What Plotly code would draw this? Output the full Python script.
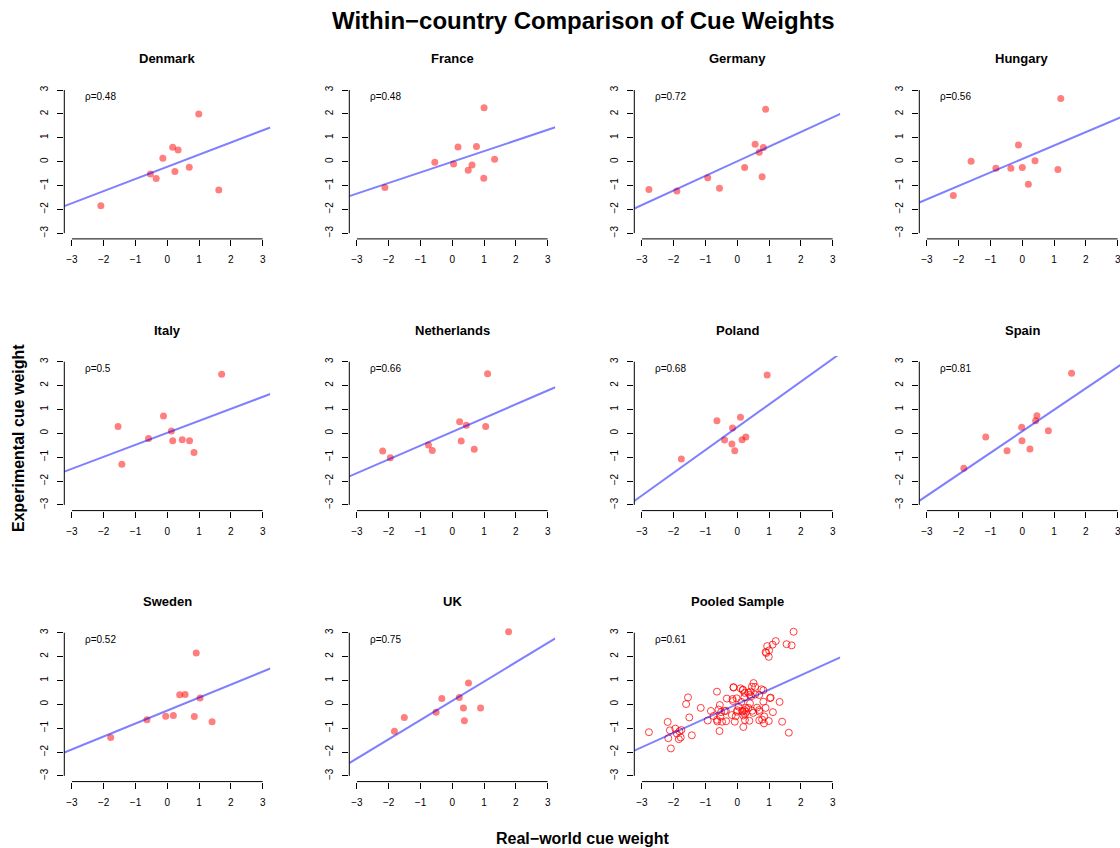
import numpy as np
import plotly.graph_objects as go

# Real-world (x) and experimental (y) cue weights per country
denmark_x = [-2.09, -0.53, -0.35, -0.14, 0.17, 0.34, 0.24, 0.69, 0.99, 1.62]
denmark_y = [-1.85, -0.52, -0.71, 0.14, 0.60, 0.49, -0.42, -0.24, 1.99, -1.19]

france_x = [-2.12, -0.55, 0.04, 0.18, 0.62, 0.50, 0.76, 1.00, 0.99, 1.33]
france_y = [-1.09, -0.03, -0.10, 0.61, -0.14, -0.36, 0.63, 2.26, -0.70, 0.10]

germany_x = [-2.78, -1.90, -0.93, -0.56, 0.23, 0.56, 0.69, 0.82, 0.78, 0.89]
germany_y = [-1.17, -1.23, -0.68, -1.12, -0.25, 0.73, 0.39, 0.59, -0.64, 2.19]

hungary_x = [-2.17, -1.61, -0.83, -0.36, -0.12, 0.00, 0.19, 0.40, 1.12, 1.21]
hungary_y = [-1.42, 0.01, -0.28, -0.28, 0.70, -0.25, -0.95, 0.04, -0.33, 2.65]

italy_x = [-1.55, -1.43, -0.59, -0.12, 0.13, 0.17, 0.47, 0.70, 0.84, 1.71]
italy_y = [0.29, -1.30, -0.22, 0.72, 0.10, -0.31, -0.27, -0.31, -0.80, 2.47]

netherlands_x = [-2.19, -1.95, -0.75, -0.63, 0.23, 0.44, 0.28, 0.69, 1.05, 1.11]
netherlands_y = [-0.74, -1.02, -0.49, -0.72, 0.48, 0.34, -0.32, -0.67, 0.28, 2.50]

poland_x = [-1.76, -0.64, -0.40, -0.15, -0.17, -0.08, 0.10, 0.15, 0.27, 0.94]
poland_y = [-1.08, 0.53, -0.28, 0.22, -0.45, -0.73, 0.67, -0.27, -0.15, 2.44]

spain_x = [-1.84, -1.15, -0.48, -0.02, -0.01, 0.24, 0.42, 0.46, 0.82, 1.55]
spain_y = [-1.46, -0.15, -0.73, 0.25, -0.31, -0.66, 0.53, 0.74, 0.11, 2.52]

sweden_x = [-1.78, -0.64, -0.05, 0.19, 0.39, 0.56, 0.85, 0.91, 1.03, 1.41]
sweden_y = [-1.39, -0.65, -0.50, -0.47, 0.40, 0.41, -0.51, 2.15, 0.26, -0.73]

uk_x = [-1.82, -1.51, -0.51, -0.33, 0.22, 0.35, 0.51, 0.38, 0.89, 1.77]
uk_y = [-1.13, -0.55, -0.33, 0.24, 0.29, -0.15, 0.89, -0.69, -0.15, 3.04]

countries = ["Denmark", "France", "Germany", "Hungary", "Italy", "Netherlands",
             "Poland", "Spain", "Sweden", "UK"]
rho_labels = ["0.48", "0.48", "0.72", "0.56", "0.5", "0.66", "0.68", "0.81",
              "0.52", "0.75", "0.61"]
tick_values = [-3, -2, -1, 0, 1, 2, 3]

xs = [denmark_x, france_x, germany_x, hungary_x, italy_x, netherlands_x,
      poland_x, spain_x, sweden_x, uk_x]
ys = [denmark_y, france_y, germany_y, hungary_y, italy_y, netherlands_y,
      poland_y, spain_y, sweden_y, uk_y]

# Pooled sample: every country's points together
pooled_x = [v for lst in xs for v in lst]
pooled_y = [v for lst in ys for v in lst]

panels = [(c, x, y, False) for c, x, y in zip(countries, xs, ys)]
panels.append(("Pooled Sample", pooled_x, pooled_y, True))

# Page geometry in pixels
W, H = 1120, 848
LIM = 3.24
col_left = [64.3, 349.3, 634.3, 919.3]
row_top = [84.3, 356.0, 627.0]
pw, ph = 206.0, 154.6
px_per_unit = pw / (2 * LIM)

font_family = "Liberation Sans, Arial, Helvetica, sans-serif"

fig = go.Figure()
annotations = []
shapes = []
layout_axes = {}

for i, (name, x, y, pooled) in enumerate(panels):
    r, c = divmod(i, 4)
    left = col_left[c]
    right = min(left + pw, W)
    top = row_top[r]
    bottom = top + ph
    xmax = -LIM + (right - left) / px_per_unit
    k = "" if i == 0 else str(i + 1)
    xa, ya = "x" + k, "y" + k

    if pooled:
        marker = dict(symbol="circle-open", size=7, color="rgba(255,0,0,0.75)",
                      line=dict(width=1, color="rgba(255,0,0,0.75)"))
    else:
        marker = dict(symbol="circle", size=7, color="rgba(255,0,0,0.5)",
                      line=dict(width=0))
    fig.add_trace(go.Scatter(x=x, y=y, mode="markers", marker=marker,
                             xaxis=xa, yaxis=ya, showlegend=False,
                             hoverinfo="skip"))

    # least-squares fit line spanning the whole panel
    slope, intercept = np.polyfit(x, y, 1)
    lx = np.array([-LIM, LIM])
    fig.add_trace(go.Scatter(x=lx, y=intercept + slope * lx, mode="lines",
                             line=dict(color="rgba(0,0,255,0.5)", width=2),
                             xaxis=xa, yaxis=ya, showlegend=False,
                             hoverinfo="skip"))

    axis_common = dict(showgrid=False, zeroline=False, showline=False,
                       ticks="outside", ticklen=6, tickwidth=1,
                       tickcolor="black", tickvals=tick_values,
                       tickfont=dict(family=font_family, size=10, color="black"),
                       ticklabelstandoff=5, ticklabeloverflow="allow",
                       fixedrange=True)
    layout_axes["xaxis" + k] = dict(
        axis_common, domain=[left / W, right / W], range=[-LIM, xmax],
        anchor=ya)
    layout_axes["yaxis" + k] = dict(
        axis_common, domain=[1 - bottom / H, 1 - top / H], range=[-LIM, LIM],
        anchor=xa, tickangle=-90)

    # axis spines covering only the tick span
    shapes.append(dict(type="line", xref=xa, yref=ya + " domain",
                       x0=-3, x1=3, y0=0, y1=0,
                       line=dict(color="black", width=1)))
    shapes.append(dict(type="line", xref=xa + " domain", yref=ya,
                       x0=0, x1=0, y0=-3, y1=3,
                       line=dict(color="black", width=1)))

    # panel title and correlation label
    annotations.append(dict(text="<b>%s</b>" % name, xref="paper", yref="paper",
                            x=(left + pw / 2) / W, y=1 - (top - 25.3) / H,
                            xanchor="center", yanchor="middle", showarrow=False,
                            font=dict(family=font_family, size=13, color="black")))
    annotations.append(dict(text="ρ=" + rho_labels[i], xref="paper", yref="paper",
                            x=(left + 19) / W, y=1 - (top + 12.4) / H,
                            xanchor="left", yanchor="middle", showarrow=False,
                            font=dict(family=font_family, size=10, color="black")))

annotations.append(dict(text="<b>Within−country Comparison of Cue Weights</b>",
                        xref="paper", yref="paper", x=583 / W, y=1 - 20 / H,
                        xanchor="center", yanchor="middle", showarrow=False,
                        font=dict(family=font_family, size=24, color="black")))
annotations.append(dict(text="<b>Real−world cue weight</b>",
                        xref="paper", yref="paper", x=582.5 / W, y=1 - 838 / H,
                        xanchor="center", yanchor="middle", showarrow=False,
                        font=dict(family=font_family, size=16, color="black")))
annotations.append(dict(text="<b>Experimental cue weight</b>",
                        xref="paper", yref="paper", x=18 / W, y=1 - 438 / H,
                        xanchor="center", yanchor="middle", showarrow=False,
                        textangle=-90,
                        font=dict(family=font_family, size=16, color="black")))

fig.update_layout(width=W, height=H, margin=dict(l=0, r=0, t=0, b=0),
                  paper_bgcolor="white", plot_bgcolor="white",
                  annotations=annotations, shapes=shapes, **layout_axes)

fig.write_html("out.html")
